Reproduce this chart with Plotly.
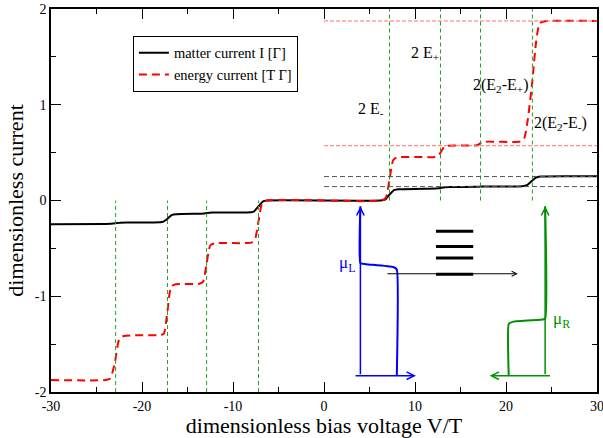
import plotly.graph_objects as go

# ---------------- data ----------------
# matter current I [Gamma]
matter_v = [-30, -24, -23.4, -22.9, -22.4, -21.5, -18.0, -17.7, -17.2, -16.7, -16.2,
            -13.5, -13.2, -12.9, -12.6, -12.2, -8.0, -7.7, -7.2, -6.7, -6.2,
            6.2, 6.7, 7.2, 7.7, 8.2, 12.3, 12.6, 12.9, 13.3, 13.8, 16.8, 17.2, 17.6,
            21.8, 22.3, 22.8, 23.3, 23.8, 30]
matter_i = [-0.248, -0.245, -0.243, -0.238, -0.232, -0.230, -0.226, -0.222, -0.19, -0.150, -0.143,
            -0.138, -0.136, -0.131, -0.127, -0.125, -0.122, -0.115, -0.062, -0.008, 0.0,
            0.0, 0.008, 0.062, 0.108, 0.117, 0.126, 0.128, 0.134, 0.139, 0.141, 0.143, 0.145, 0.146,
            0.150, 0.160, 0.200, 0.240, 0.250, 0.252]

# energy current [T Gamma]
energy_v = [-30, -24.0, -23.5, -23.0, -22.5, -22.0, -18.0, -17.6, -17.2, -16.8, -16.3,
            -13.7, -13.3, -12.9, -12.5, -12.0, -8.0, -7.6, -7.2, -6.8, -6.3,
            6.3, 6.8, 7.2, 7.6, 8.0, 12.2, 12.6, 12.9, 13.2, 13.6, 16.7, 17.0, 17.3, 17.7,
            21.6, 22.0, 22.4, 22.9, 23.3, 23.7, 24.3, 30]
energy_i = [-1.875, -1.875, -1.86, -1.70, -1.45, -1.415, -1.405, -1.39, -1.15, -0.90, -0.875,
            -0.870, -0.850, -0.660, -0.470, -0.447, -0.440, -0.410, -0.220, -0.030, 0.0,
            0.0, 0.030, 0.220, 0.420, 0.450, 0.455, 0.470, 0.515, 0.560, 0.572, 0.575, 0.585, 0.605, 0.614,
            0.618, 0.650, 0.850, 1.250, 1.650, 1.850, 1.872, 1.875]

# axis ticks (labels with plain hyphen, as in the figure)
x_ticks = [-30, -20, -10, 0, 10, 20, 30]
x_ticktext = ["-30", "-20", "-10", "0", "10", "20", "30"]
y_ticks = [-2, -1, 0, 1, 2]
y_ticktext = ["-2", "-1", "0", "1", "2"]

# resonance positions (green dashed lines)
res_neg = [-22.9, -17.2, -12.9, -7.2]
res_pos = [7.2, 12.8, 17.2, 22.9]
# guide levels for V>0
black_guides = [0.25, 0.145]
red_guides = [1.875, 0.572]

# labels of the resonances
res_labels = ["2 E<sub>-</sub>", "2 E<sub>+</sub>", "2(E<sub>2</sub>-E<sub>+</sub>)", "2(E<sub>2</sub>-E<sub>-</sub>)"]
res_label_x = [6.8, 12.9, 16.2, 22.9]
res_label_y = [0.955, 1.54, 1.206, 0.806]
res_label_anchor = ["right", "right", "left", "left"]

# inset: left lead Fermi function (blue)
fermiL_x = [4.0, 4.0, 4.6, 7.6, 8.0, 8.0]
fermiL_y = [-0.06, -0.655, -0.665, -0.695, -0.72, -1.83]
# inset: right lead Fermi function (green)
fermiR_x = [24.3, 24.3, 23.8, 20.8, 20.3, 20.3]
fermiR_y = [-0.06, -1.235, -1.245, -1.265, -1.29, -1.83]
# inset: dot levels
dot_levels = [-0.32, -0.48, -0.60, -0.77]
dot_x = [12.3, 16.4]

serif = "Liberation Serif"

fig = go.Figure()

# reference lines
shapes = []
for xv in res_neg:
    shapes.append(dict(type="line", xref="x", yref="y", x0=xv, x1=xv, y0=-2, y1=0,
                       line=dict(color="#22a022", width=1, dash="4px,3px")))
for xv in res_pos:
    shapes.append(dict(type="line", xref="x", yref="y", x0=xv, x1=xv, y0=0, y1=2,
                       line=dict(color="#22a022", width=1, dash="4px,3px")))
for yv in black_guides:
    shapes.append(dict(type="line", xref="x", yref="y", x0=0, x1=30, y0=yv, y1=yv,
                       line=dict(color="#555555", width=1, dash="5px,3px")))
for yv in red_guides:
    shapes.append(dict(type="line", xref="x", yref="y", x0=0, x1=30, y0=yv, y1=yv,
                       line=dict(color="#ff7070", width=1, dash="4px,2px")))
for yv in dot_levels:
    shapes.append(dict(type="line", xref="x", yref="y", x0=dot_x[0], x1=dot_x[1], y0=yv, y1=yv,
                       line=dict(color="black", width=3)))

# curves
fig.add_trace(go.Scatter(x=matter_v, y=matter_i, mode="lines", name="matter current I [Γ]",
                         line=dict(color="black", width=2, shape="spline", smoothing=0.6)))
fig.add_trace(go.Scatter(x=energy_v, y=energy_i, mode="lines", name="energy current [T Γ]",
                         line=dict(color="#ff0000", width=2, dash="8px,5px", shape="spline", smoothing=0.6)))
fig.add_trace(go.Scatter(x=fermiL_x, y=fermiL_y, mode="lines", showlegend=False,
                         line=dict(color="#0000ff", width=2, shape="spline", smoothing=0.4)))
fig.add_trace(go.Scatter(x=fermiR_x, y=fermiR_y, mode="lines", showlegend=False,
                         line=dict(color="#009000", width=2, shape="spline", smoothing=0.4)))

annotations = []
for t, xv, yv, an in zip(res_labels, res_label_x, res_label_y, res_label_anchor):
    annotations.append(dict(x=xv, y=yv, xref="x", yref="y", text=t, showarrow=False,
                            xanchor=an, yanchor="middle", font=dict(family=serif, size=16, color="black")))

# arrows of the inset
def arrow(x0, y0, x1, y1, color, width):
    return dict(x=x1, y=y1, ax=x0, ay=y0, xref="x", yref="y", axref="x", ayref="y",
                text="", showarrow=True, arrowhead=5, arrowsize=1.0, arrowwidth=width,
                arrowcolor=color)

annotations.append(arrow(4.0, -1.83, 4.0, -0.06, "#0000ff", 1.5))
annotations.append(arrow(3.3, -1.83, 10.1, -1.83, "#0000ff", 1.5))
annotations.append(arrow(24.3, -1.83, 24.3, -0.06, "#009000", 1.5))
annotations.append(arrow(25.0, -1.83, 18.2, -1.83, "#009000", 1.5))
annotations.append(arrow(6.8, -0.765, 21.3, -0.765, "black", 1))
annotations.append(dict(x=3.6, y=-0.665, xref="x", yref="y", text="μ<sub>L</sub>", showarrow=False,
                        xanchor="right", yanchor="middle", font=dict(family=serif, size=17, color="#0000ff")))
annotations.append(dict(x=24.9, y=-1.245, xref="x", yref="y", text="μ<sub>R</sub>", showarrow=False,
                        xanchor="left", yanchor="middle", font=dict(family=serif, size=17, color="#009000")))

fig.update_layout(
    width=603, height=438,
    margin=dict(l=51, r=6, t=9, b=46, autoexpand=False),
    paper_bgcolor="white", plot_bgcolor="white",
    font=dict(family=serif, color="black"),
    shapes=shapes, annotations=annotations,
    legend=dict(x=0.150, y=0.930, xanchor="left", yanchor="top",
                bgcolor="white", bordercolor="black", borderwidth=1,
                font=dict(family=serif, size=14.5), tracegroupgap=0),
)
fig.update_xaxes(range=[-30, 30], tickmode="array", tickvals=x_ticks, ticktext=x_ticktext,
                 ticks="inside", ticklen=10, tickwidth=1.2, tickcolor="black",
                 showline=True, linecolor="black", linewidth=1.5, mirror="allticks", automargin=False,
                 ticklabeloverflow="allow",
                 showgrid=False, zeroline=False, tickfont=dict(family=serif, size=14),
                 minor=dict(dtick=5, tick0=0, ticks="inside", ticklen=5, tickwidth=1.2, tickcolor="black", showgrid=False),
                 title=dict(text="dimensionless bias voltage V/T", font=dict(family=serif, size=22), standoff=7))
fig.update_yaxes(range=[-2, 2], tickmode="array", tickvals=y_ticks, ticktext=y_ticktext,
                 ticks="inside", ticklen=10, tickwidth=1.2, tickcolor="black",
                 showline=True, linecolor="black", linewidth=1.5, mirror="allticks", automargin=False,
                 ticklabeloverflow="allow",
                 showgrid=False, zeroline=False, tickfont=dict(family=serif, size=14),
                 minor=dict(dtick=0.5, tick0=0, ticks="inside", ticklen=5, tickwidth=1.2, tickcolor="black", showgrid=False),
                 title=dict(text="dimensionless current", font=dict(family=serif, size=22), standoff=5))

fig.write_html("out.html")
